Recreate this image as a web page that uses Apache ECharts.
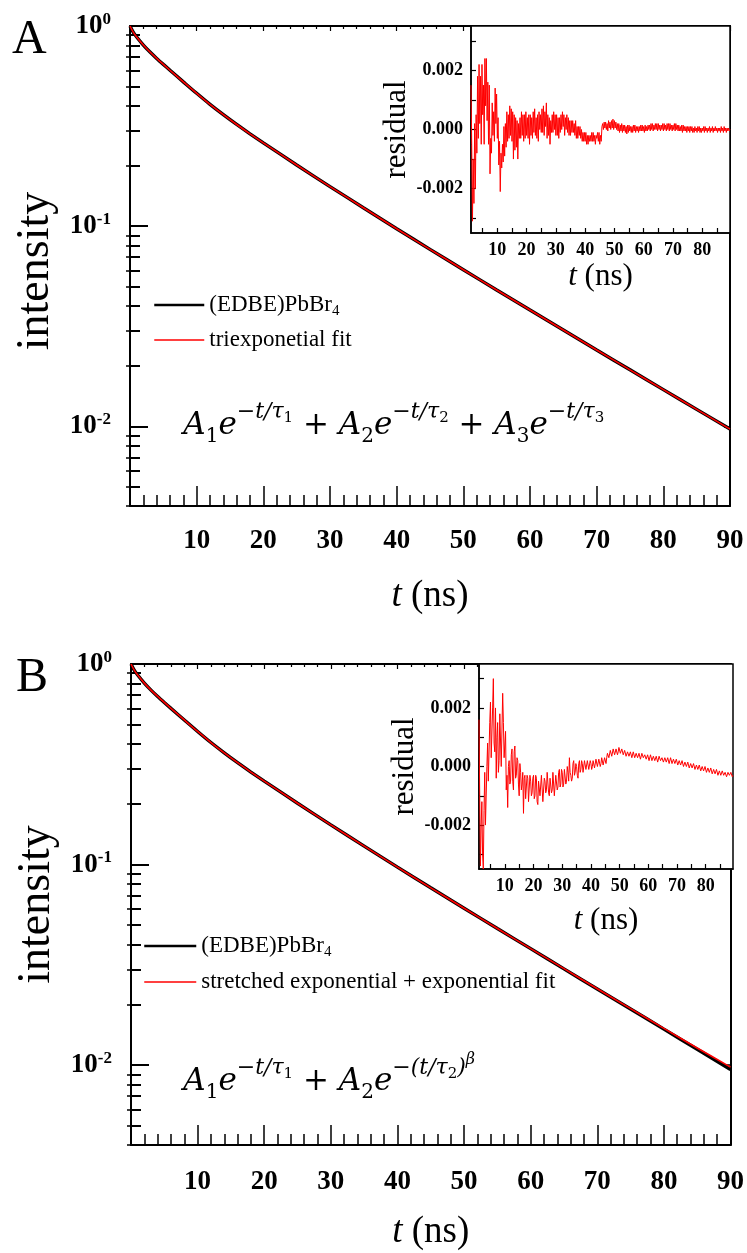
<!DOCTYPE html>
<html><head><meta charset="utf-8">
<script src="https://cdn.jsdelivr.net/npm/echarts@6/dist/echarts.min.js"></script>
<style>html,body{margin:0;padding:0;background:#fff}#c{width:747px;height:1253px}</style>
</head><body><div id="c"></div>
<script>
// ---------- data ----------
const tMain = [0,0.5,1,2,3,4,5,6,8,10,12,14,16,18,20,25,30,35,40,45,50,55,60,65,70,75,80,85,90];
const intensityA = [1.0,0.929,0.881,0.803,0.741,0.689,0.643,0.601,0.526,0.461,0.406,0.3606,0.3221,0.2893,0.2608,0.2022,0.1577,0.1236,0.0971,0.0766,0.0606,0.0480,0.0381,0.0303,0.02406,0.01916,0.01526,0.01216,0.00969];
const fitA       = [1.0,0.929,0.881,0.803,0.741,0.689,0.643,0.601,0.526,0.461,0.406,0.3606,0.3221,0.2893,0.2608,0.2022,0.1577,0.1236,0.0971,0.0766,0.0606,0.0480,0.0381,0.0303,0.02406,0.01916,0.01526,0.01216,0.00969];
const intensityB = [1.0,0.929,0.881,0.803,0.741,0.689,0.643,0.601,0.526,0.461,0.406,0.3606,0.3221,0.2893,0.2608,0.2022,0.1577,0.1236,0.0971,0.0766,0.0606,0.0480,0.0381,0.0302,0.02398,0.01906,0.01512,0.01200,0.00952];
const fitB       = [1.0,0.929,0.881,0.803,0.741,0.689,0.643,0.601,0.526,0.461,0.406,0.3606,0.3221,0.2893,0.2608,0.2022,0.1577,0.1236,0.0971,0.0766,0.0606,0.0480,0.0381,0.0303,0.02404,0.01915,0.01526,0.01218,0.00978];

// residuals, in units of 1e-3, sampled every 0.25 ns from t = 1.0 ns
const residT0 = 1.0, residStep = 0.25;
const residA = [
 1.5,-0.5,-3.1,-1.0,-2.5,0.2,-2.0,0.5,-0.8,1.8,-0.3,2.2,0.2,1.8,-0.5,2.2,0.5,1.5,-0.5,2.4,
 0.8,2.4,0.3,1.6,-0.5,1.5,-1.5,-0.3,-0.8,0.9,-0.2,0.6,-0.4,1.4,0.2,1.2,-0.3,0.4,-1.2,-0.4,
 -2.1,-0.8,-1.3,-0.5,-1.1,0.1,-0.9,0.2,-0.6,0.6,-0.4,0.5,-0.3,0.8,-0.2,0.7,-0.4,0.6,-1.0,0.5,
 -0.7,0.4,-0.6,0.3,-1.0,0.2,-0.3,0.4,-0.3,0.6,-0.2,0.5,-0.4,0.5,-0.3,0.6,-0.2,0.4,-0.3,0.5,
 -0.5,0.5,-0.2,0.4,-0.3,0.6,-0.1,0.7,-0.2,0.4,-0.3,0.5,-0.4,0.6,0.0,0.5,-0.1,0.7,-0.1,0.8,
 -0.2,0.6,0.1,0.9,-0.3,0.5,-0.2,0.4,-0.5,0.3,-0.1,0.5,-0.1,0.6,0.0,0.5,-0.2,0.5,-0.2,0.4,
 -0.3,0.4,-0.1,0.5,0.0,0.6,0.1,0.5,-0.2,0.4,0.0,0.5,-0.1,0.4,-0.2,0.3,-0.2,0.3,-0.1,0.3,
 -0.1,0.2,-0.2,0.3,-0.3,0.1,-0.3,0.1,-0.2,0.1,-0.3,0.0,-0.4,-0.1,-0.4,-0.1,-0.4,-0.1,-0.5,-0.2,
 -0.5,-0.2,-0.4,-0.2,-0.4,-0.1,-0.4,-0.1,-0.4,-0.2,-0.5,-0.2,-0.3,-0.1,-0.4,-0.1,-0.5,-0.2,-0.4,0.1,
 0.2,0.0,0.25,0.05,0.25,0.0,0.2,-0.05,0.3,0.05,0.25,0.0,0.3,0.05,0.35,0.0,0.3,0.05,0.25,0.0,
 0.2,-0.05,0.2,-0.1,0.15,-0.05,0.2,-0.1,0.15,-0.05,0.15,-0.1,0.1,-0.15,0.15,-0.1,0.15,-0.05,0.1,-0.1,
 0.1,-0.1,0.15,-0.05,0.15,-0.1,0.1,-0.05,0.1,-0.1,0.1,-0.05,0.15,-0.05,0.15,-0.05,0.1,-0.1,0.15,-0.05,
 0.1,-0.05,0.15,0.0,0.15,-0.05,0.2,0.0,0.2,-0.05,0.15,0.0,0.2,0.0,0.2,-0.05,0.2,0.0,0.15,-0.05,
 0.15,0.0,0.2,-0.05,0.2,0.0,0.15,-0.05,0.2,0.0,0.2,-0.05,0.2,0.0,0.15,-0.05,0.15,0.0,0.2,-0.05,
 0.2,0.0,0.15,-0.05,0.15,-0.05,0.1,-0.05,0.15,-0.1,0.15,-0.05,0.1,-0.05,0.1,-0.1,0.1,-0.05,0.1,-0.1,
 0.1,-0.05,0.1,-0.1,0.05,-0.1,0.1,-0.05,0.05,-0.1,0.1,-0.05,0.1,-0.1,0.05,-0.1,0.05,-0.05,0.1,-0.1,
 0.1,-0.05,0.05,-0.1,0.05,-0.05,0.1,-0.1,0.05,-0.05,0.1,-0.1,0.05,-0.05,0.1,-0.05,0.05,-0.1,0.05,-0.05,
 0.05,-0.1,0.1,-0.05,0.05,-0.1,0.1,-0.05,0.05,-0.1,0.05,-0.05,0.05,-0.05,0.0
];
const residB = [
 1.6,-1.0,-3.4,-2.0,-1.2,-3.0,-3.5,-1.5,-0.2,-2.0,-2.0,0.0,0.8,-0.5,-0.5,1.5,2.2,0.3,0.3,2.0,
 3.0,0.8,0.5,2.0,-0.4,1.0,1.5,-0.2,0.2,1.8,1.8,0.0,0.0,2.5,1.5,0.3,0.3,1.2,-0.8,-0.3,
 -1.4,0.0,0.2,-0.6,-0.5,0.4,0.6,-0.5,-0.8,0.5,0.7,-0.4,-0.3,0.3,0.2,-0.6,-1.0,0.1,-0.2,-0.8,
 -0.6,-0.2,-1.6,-0.4,-0.3,-1.1,-1.1,-0.3,-0.4,-1.2,-1.2,-0.3,-0.5,-1.0,-0.9,-0.4,-0.3,-1.1,-1.0,-0.3,
 -0.4,-1.2,-1.3,-0.5,-0.5,-1.0,-1.0,-0.3,-0.3,-1.2,-1.2,-0.4,-0.5,-0.9,-0.8,-0.2,-0.2,-0.9,-1.0,-0.4,
 -0.4,-0.9,-0.8,-0.2,-0.2,-1.0,-1.0,-0.3,-0.3,-0.8,-0.7,-0.2,-0.1,-0.7,-0.6,-0.1,-0.2,-0.7,-0.6,-0.1,
 -0.1,-0.6,-0.5,0.0,-0.2,-0.5,0.3,-0.2,-0.3,-0.5,-0.4,0.1,0.2,-0.3,-0.2,0.1,0.0,-0.3,-0.4,0.1,
 0.2,-0.2,-0.1,0.2,0.1,-0.2,-0.2,0.2,0.2,-0.1,-0.1,0.2,0.2,-0.1,-0.1,0.2,0.1,-0.1,0.0,0.2,
 0.2,-0.05,0.0,0.25,0.3,0.0,0.05,0.25,0.2,0.0,0.1,0.3,0.3,0.05,0.1,0.3,0.25,0.1,0.3,0.45,
 0.5,0.3,0.35,0.55,0.55,0.35,0.4,0.6,0.6,0.4,0.45,0.6,0.55,0.4,0.5,0.65,0.65,0.45,0.45,0.6,
 0.55,0.4,0.4,0.55,0.5,0.35,0.35,0.5,0.5,0.35,0.4,0.5,0.45,0.3,0.3,0.5,0.45,0.3,0.35,0.45,
 0.45,0.3,0.3,0.45,0.4,0.25,0.3,0.45,0.45,0.3,0.3,0.4,0.4,0.25,0.25,0.4,0.35,0.2,0.25,0.4,
 0.35,0.2,0.2,0.35,0.35,0.2,0.25,0.35,0.3,0.15,0.2,0.35,0.35,0.2,0.2,0.3,0.3,0.15,0.15,0.3,
 0.3,0.15,0.15,0.3,0.25,0.1,0.15,0.3,0.3,0.1,0.1,0.25,0.25,0.1,0.1,0.25,0.2,0.05,0.1,0.2,
 0.2,0.05,0.05,0.2,0.15,0.0,0.05,0.15,0.15,0.0,0.0,0.15,0.1,-0.05,0.0,0.1,0.05,-0.05,-0.05,0.1,
 0.05,-0.1,-0.05,0.05,0.0,-0.1,-0.1,0.05,0.0,-0.15,-0.1,0.0,-0.05,-0.15,-0.15,0.0,-0.05,-0.2,-0.15,-0.05,
 -0.1,-0.2,-0.2,-0.05,-0.1,-0.25,-0.2,-0.1,-0.15,-0.25,-0.25,-0.1,-0.15,-0.3,-0.25,-0.15,-0.2,-0.3,-0.3,-0.15,
 -0.2,-0.3,-0.3,-0.2,-0.25,-0.35,-0.3,-0.2,-0.2,-0.3,-0.3,-0.2,-0.25,-0.35,-0.3
];

const yDecades = [0.01, 0.1, 1];
const yMinor = [0.004,0.005,0.006,0.007,0.008,0.009,0.02,0.03,0.04,0.05,0.06,0.07,0.08,0.09,0.2,0.3,0.4,0.5,0.6,0.7,0.8,0.9];
const residXTicks = [5,10,15,20,25,30,35,40,45,50,55,60,65,70,75,80,85];
const residXLabels = [10,20,30,40,50,60,70,80];
const residYTicks = [-0.003,-0.002,-0.001,0,0.001,0.002,0.003];
const residYLabels = [-0.002,0,0.002];

const nameData = '(EDBE)PbBr4';
const nameFitA = 'triexponetial fit';
const nameFitB = 'stretched exponential + exponential fit';

// ---------- helpers ----------
const FF = "'Liberation Serif','Times New Roman',serif";
const MF = "'DejaVu Serif',serif";
const pairs = (xs, ys) => xs.map((x, i) => [x, ys[i]]);
const residPairs = arr => arr.map((v, i) => [residT0 + i * residStep, v * 1e-3]);

function mainX(grid, nameGap, labelMargin) {
  return [{
    type: 'value', gridIndex: grid, min: 0, max: 90, interval: 10, position: 'bottom',
    axisLine: {onZero: false, lineStyle: {color: '#000', width: 2}},
    axisTick: {inside: true, length: 20, lineStyle: {color: '#000', width: 1.5}},
    minorTick: {show: true, splitNumber: 5, length: 11, lineStyle: {color: '#000', width: 1.5}},
    splitLine: {show: false}, minorSplitLine: {show: false},
    axisLabel: {formatter: v => v === 0 ? '' : String(v), fontFamily: FF, fontWeight: 'bold', fontSize: 27, color: '#000', margin: labelMargin},
    name: '{i|t} (ns)', nameLocation: 'middle', nameGap: nameGap,
    nameTextStyle: {fontFamily: FF, fontSize: 37, color: '#000', rich: {i: {fontFamily: FF, fontStyle: 'italic', fontSize: 37, color: '#000'}}}
  }, {
    type: 'value', gridIndex: grid, min: 0, max: 90, interval: 10, position: 'top',
    axisLine: {onZero: false, lineStyle: {color: '#000', width: 2}},
    axisTick: {inside: true, length: 5, lineStyle: {color: '#000', width: 1.2}},
    minorTick: {show: true, splitNumber: 5, length: 3, lineStyle: {color: '#000', width: 1.2}},
    splitLine: {show: false}, axisLabel: {show: false}
  }];
}
function mainY(grid, namePad) {
  const base = {type: 'log', logBase: 10, gridIndex: grid, min: 0.004, max: 1, splitLine: {show: false}};
  return [
    Object.assign({}, base, {
      position: 'left',
      axisLine: {show: true, onZero: false, lineStyle: {color: '#000', width: 2}},
      axisTick: {inside: true, length: 18, customValues: yDecades, lineStyle: {color: '#000', width: 2}},
      axisLabel: {customValues: yDecades, margin: 19,
        formatter: v => '{b|10}{e|' + Math.round(Math.log10(v)) + '}',
        rich: {b: {fontFamily: FF, fontWeight: 'bold', fontSize: 27, height: 30, lineHeight: 30, verticalAlign: 'bottom', color: '#000'},
               e: {fontFamily: FF, fontWeight: 'bold', fontSize: 17, height: 17, lineHeight: 17, verticalAlign: 'top', color: '#000'}}},
      name: 'intensity', nameLocation: 'middle', nameGap: 66,
      nameTextStyle: {fontFamily: FF, fontSize: 46, color: '#000', padding: namePad}
    }),
    Object.assign({}, base, {
      position: 'left', axisLine: {show: false},
      axisTick: {inside: true, length: 10, customValues: yMinor, lineStyle: {color: '#000', width: 2}},
      axisLabel: {show: false}
    }),
    Object.assign({}, base, {
      position: 'right',
      axisLine: {show: true, onZero: false, lineStyle: {color: '#000', width: 2}},
      axisTick: {inside: true, length: 6, customValues: yDecades, lineStyle: {color: '#000', width: 1.5}},
      axisLabel: {show: false}
    }),
    Object.assign({}, base, {
      position: 'right', axisLine: {show: false},
      axisTick: {inside: true, length: 4, customValues: yMinor, lineStyle: {color: '#000', width: 1.5}},
      axisLabel: {show: false}
    })
  ];
}
function insetX(grid, nameGap) {
  return {
    type: 'value', gridIndex: grid, min: 1, max: 89.5, z: 5,
    axisLine: {onZero: false, lineStyle: {color: '#000', width: 1.5}},
    axisTick: {inside: true, length: 5, customValues: residXTicks, lineStyle: {color: '#000', width: 1.2}},
    axisLabel: {customValues: residXLabels, fontFamily: FF, fontWeight: 'bold', fontSize: 18, color: '#000', margin: 8},
    splitLine: {show: false},
    name: '{i|t} (ns)', nameLocation: 'middle', nameGap: nameGap,
    nameTextStyle: {fontFamily: FF, fontSize: 31, color: '#000', rich: {i: {fontFamily: FF, fontStyle: 'italic', fontSize: 31, color: '#000'}}}
  };
}
function insetY(grid, nameGap) {
  return {
    type: 'value', gridIndex: grid, min: -0.0035, max: 0.0035, z: 5,
    axisLine: {onZero: false, lineStyle: {color: '#000', width: 1.5}},
    axisTick: {inside: true, length: 5, customValues: residYTicks, lineStyle: {color: '#000', width: 1.2}},
    axisLabel: {customValues: residYLabels, formatter: v => v.toFixed(3), fontFamily: FF, fontWeight: 'bold', fontSize: 18, color: '#000', margin: 8},
    splitLine: {show: false},
    name: 'residual', nameLocation: 'middle', nameGap: nameGap,
    nameTextStyle: {fontFamily: FF, fontSize: 31, color: '#000'}
  };
}
function legend(left, top, gap, iw, fitName) {
  return {
    orient: 'vertical', left: left, top: top, itemGap: gap, itemWidth: iw, itemHeight: 28,
    selectedMode: false, padding: 0,
    data: [
      {name: nameData, lineStyle: {width: 2.5, color: '#000'}, itemStyle: {opacity: 0}},
      {name: fitName, lineStyle: {width: 1.5, color: '#ff0000'}, itemStyle: {opacity: 0}}
    ],
    formatter: n => n === nameData ? '(EDBE)PbBr{sub|4}' : n,
    textStyle: {fontFamily: FF, fontSize: 23, lineHeight: 28, color: '#000',
      rich: {sub: {fontFamily: FF, fontSize: 15, height: 15, lineHeight: 15, verticalAlign: 'bottom', color: '#000'}}}
  };
}
// rich-text pieces of the formulas (main text, subscript, superscript, sub-of-superscript)
const formulaRich = {
  z: {fontSize: 1, height: 48, lineHeight: 48},
  i: {fontFamily: MF, fontStyle: 'italic', fontSize: 31, height: 40, lineHeight: 40, verticalAlign: 'bottom', fill: '#000'},
  n: {fontFamily: MF, fontSize: 31, height: 40, lineHeight: 40, verticalAlign: 'bottom', fill: '#000'},
  s: {fontFamily: MF, fontSize: 20, height: 18, lineHeight: 18, verticalAlign: 'bottom', fill: '#000'},
  p: {fontFamily: MF, fontStyle: 'italic', fontSize: 22, height: 28, lineHeight: 28, verticalAlign: 'top', fill: '#000'},
  ps: {fontFamily: MF, fontSize: 15, height: 40, lineHeight: 40, verticalAlign: 'top', fill: '#000'},
  pp: {fontFamily: MF, fontStyle: 'italic', fontSize: 16, height: 12, lineHeight: 12, verticalAlign: 'top', fill: '#000'}
};
const formulaA = '{z| }{i|A}{s|1}{i|e}{p|−t/τ}{ps|1}{n| + }{i|A}{s|2}{i|e}{p|−t/τ}{ps|2}{n| + }{i|A}{s|3}{i|e}{p|−t/τ}{ps|3}';
const formulaB = '{z| }{i|A}{s|1}{i|e}{p|−t/τ}{ps|1}{n| + }{i|A}{s|2}{i|e}{p|−(t/τ}{ps|2}{p|)}{pp|β}';

const lineSeries = (name, xi, yi, data, color, width, z) => ({
  name, type: 'line', xAxisIndex: xi, yAxisIndex: yi, data, showSymbol: false, symbol: 'none',
  smooth: 0.3, lineStyle: {color, width}, itemStyle: {color}, z
});

const option = {
  animation: false,
  backgroundColor: '#fff',
  grid: [
    {left: 130, top: 26, width: 600, height: 480},
    {left: 471, top: 26, width: 259, height: 207, show: true, backgroundColor: '#fff', borderColor: '#000', borderWidth: 1.5, z: 4},
    {left: 131, top: 664, width: 602, height: 481},
    {left: 479, top: 664, width: 254, height: 205, show: true, backgroundColor: '#fff', borderColor: '#000', borderWidth: 1.5, z: 4}
  ],
  xAxis: [].concat(mainX(0, 72, 22), [insetX(1, 28)], mainX(2, 69, 24), [insetX(3, 36)]),
  yAxis: [].concat(mainY(0, [0, 10, 0, 0]), [insetY(1, 56)], mainY(2, 0), [insetY(3, 50)]),
  legend: [legend(153, 291, 7, 50, nameFitA), legend(143, 932, 8, 52, nameFitB)],
  series: [
    lineSeries(nameData, 0, 0, pairs(tMain, intensityA), '#000', 3.4, 2),
    lineSeries(nameFitA, 0, 0, pairs(tMain, fitA), '#ff0000', 1.6, 3),
    {name: 'residual A', type: 'line', xAxisIndex: 2, yAxisIndex: 4, data: residPairs(residA), showSymbol: false, symbol: 'none', lineStyle: {color: '#ff0000', width: 1}, z: 6, clip: true},
    lineSeries(nameData, 3, 5, pairs(tMain, intensityB), '#000', 3.4, 2),
    lineSeries(nameFitB, 3, 5, pairs(tMain, fitB), '#ff0000', 1.6, 3),
    {name: 'residual B', type: 'line', xAxisIndex: 5, yAxisIndex: 9, data: residPairs(residB), showSymbol: false, symbol: 'none', lineStyle: {color: '#ff0000', width: 1}, z: 6, clip: true}
  ],
  graphic: [
    {type: 'text', left: 12, top: 16, style: {text: 'A', font: "48px 'Liberation Serif'", fill: '#000'}},
    {type: 'text', left: 16, top: 654, style: {text: 'B', font: "48px 'Liberation Serif'", fill: '#000'}},
    {type: 'text', left: 183, top: 398, style: {text: formulaA, rich: formulaRich, fill: '#000'}},
    {type: 'text', left: 183, top: 1052, style: {text: formulaB, rich: formulaRich, fill: '#000'}}
  ]
};
const chart = echarts.init(document.getElementById('c'), null, {renderer: 'canvas'});
chart.setOption(option);
</script></body></html>
